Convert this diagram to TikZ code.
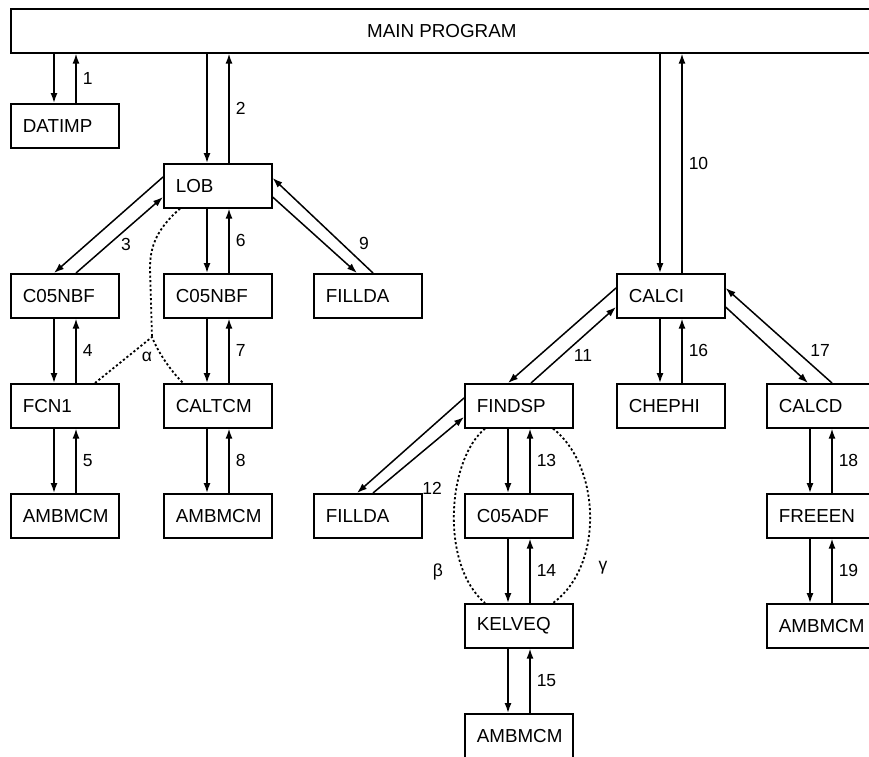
\documentclass[tikz,border=0pt]{standalone}
\usepackage{fontspec}
\setmainfont{Liberation Sans}
\usetikzlibrary{arrows.meta,calc}
\newcommand\vpair[3]{%
  \draw[arr] ([xshift=44pt]#2.north west |- #1.south) -- ([xshift=44pt]#2.north west);
  \draw[arr] ([xshift=66pt]#2.north west) -- ([xshift=66pt]#2.north west |- #1.south)
     node[lbl, pos=0.5, anchor=west, xshift=6pt] {#3};
}
\begin{document}
\begin{tikzpicture}[x=1pt,y=-1pt,
 box/.style={draw, line width=1.6pt, anchor=north west, minimum width=108pt, minimum height=44pt,
   inner xsep=12pt, inner ysep=0pt, text width=84pt, align=left, font=\fontsize{18.8}{22}\selectfont},
 arr/.style={line width=1.5pt, -{Latex[length=10pt,width=7pt]}},
 lbl/.style={font=\fontsize{17.5}{20}\selectfont, inner sep=0pt},
 dots/.style={line width=1.8pt, dash pattern=on 2.2pt off 2.3pt}]
\clip (0,0) rectangle (869,756);
\fill[white] (0,0) rectangle (869,756);
% main
\node[draw, line width=1.6pt, anchor=north west, minimum width=862pt, minimum height=44pt,
  font=\fontsize{18.8}{22}\selectfont] (main) at (10,8) {MAIN PROGRAM};
% boxes
\node[box] (datimp) at (10,103) {DATIMP};
\node[box] (lob) at (163,163) {LOB};
\node[box] (c05a) at (10,273) {C05NBF};
\node[box] (c05b) at (163,273) {C05NBF};
\node[box] (filldaA) at (313,273) {FILLDA};
\node[box] (fcn1) at (10,383) {FCN1};
\node[box] (caltcm) at (163,383) {CALTCM};
\node[box] (ambA) at (10,493) {AMBMCM};
\node[box] (ambB) at (163,493) {AMBMCM};
\node[box] (calci) at (616,273) {CALCI};
\node[box] (findsp) at (464,383) {FINDSP};
\node[box] (chephi) at (616,383) {CHEPHI};
\node[box] (calcd) at (766,383) {CALCD};
\node[box] (filldaB) at (313,493) {FILLDA};
\node[box] (c05adf) at (464,493) {C05ADF};
\node[box] (freeen) at (766,493) {FREEEN};
\node[box] (kelveq) at (464,603) {KELVEQ};
\node[box] (ambD) at (766,603) {AMBMCM};
\node[box] (ambC) at (464,713) {AMBMCM};
% vertical pairs
\vpair{main}{datimp}{1}
\vpair{main}{lob}{2}
\vpair{lob}{c05b}{6}
\vpair{c05a}{fcn1}{4}
\vpair{fcn1}{ambA}{5}
\vpair{c05b}{caltcm}{7}
\vpair{caltcm}{ambB}{8}
\vpair{main}{calci}{10}
\vpair{calci}{chephi}{16}
\vpair{findsp}{c05adf}{13}
\vpair{c05adf}{kelveq}{14}
\vpair{kelveq}{ambC}{15}
\vpair{calcd}{freeen}{18}
\vpair{freeen}{ambD}{19}
% diagonal pairs
\draw[arr] ([yshift=-14pt]lob.north west) -- ([xshift=44pt]c05a.north west);
\draw[arr] ([xshift=66pt]c05a.north west) -- ([yshift=-34pt]lob.north west);
\node[lbl] (l3) at (126,244) {3};
\draw[arr] ([xshift=60pt]filldaA.north west) -- ([yshift=-15pt]lob.north east);
\draw[arr] ([yshift=-34pt]lob.north east) -- ([xshift=44pt]filldaA.north west);
\node[lbl] (l9) at (364,243) {9};
\draw[arr] ([yshift=-15pt]calci.north west) -- ([xshift=44pt]findsp.north west);
\draw[arr] ([xshift=67pt]findsp.north west) -- ([yshift=-34pt]calci.north west);
\node[lbl] (l11) at (583,355) {11};
\draw[arr] ([xshift=66pt]calcd.north west) -- ([yshift=-15pt]calci.north east);
\draw[arr] ([yshift=-34pt]calci.north east) -- ([xshift=42pt]calcd.north west);
\node[lbl] (l17) at (820,350) {17};
\draw[arr] ([yshift=-15pt]findsp.north west) -- ([xshift=44pt]filldaB.north west);
\draw[arr] ([xshift=60pt]filldaB.north west) -- ([yshift=-34pt]findsp.north west);
\node[lbl] (l12) at (432,488) {12};
% dotted alpha
\coordinate (ja) at (152,337);
\draw[dots] ([xshift=17pt]lob.south west) .. controls (158,228) and (150,245) .. (150,268) -- (ja);
\draw[dots] ([xshift=85pt]fcn1.north west) -- (ja) .. controls (158,352) and (170,370) .. ([xshift=20pt]caltcm.north west);
\node[lbl] (alpha) at (147,357) {α};
% dotted beta gamma
\draw[dots] ([xshift=21pt]findsp.south west) .. controls (447,460) and (440,565) .. ([xshift=21pt]kelveq.north west);
\draw[dots] ([xshift=89pt]findsp.south west) .. controls (600,465) and (605,565) .. ([xshift=89pt]kelveq.north west);
\node[lbl] (beta) at (438,572) {β};
\node[lbl] (gamma) at (603,568) {γ};
\end{tikzpicture}
\end{document}
